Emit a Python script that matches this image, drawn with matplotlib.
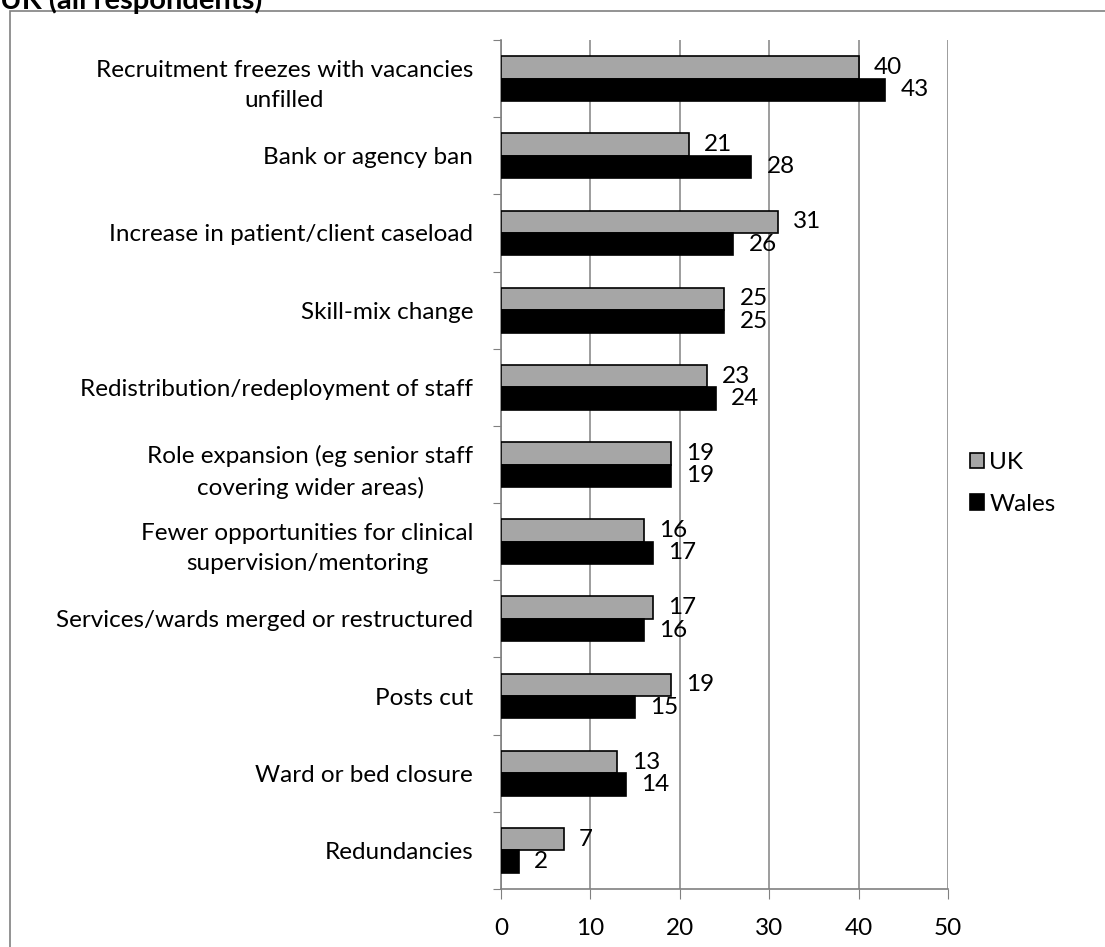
import numpy as np
import matplotlib.pyplot as plt
from matplotlib.patches import Rectangle

plt.rcParams['font.family'] = ['Lato', 'DejaVu Sans']

categories = [
    "Recruitment freezes with vacancies\nunfilled",
    "Bank or agency ban",
    "Increase in patient/client caseload",
    "Skill-mix change",
    "Redistribution/redeployment of staff",
    "Role expansion (eg senior staff\ncovering wider areas)",
    "Fewer opportunities for clinical\nsupervision/mentoring",
    "Services/wards merged or restructured",
    "Posts cut",
    "Ward or bed closure",
    "Redundancies",
]
uk = [40, 21, 31, 25, 23, 19, 16, 17, 19, 13, 7]
wales = [43, 28, 26, 25, 24, 19, 17, 16, 15, 14, 2]

FS = 17.5

fig = plt.figure(figsize=(11.05, 9.47), dpi=100)
ax = fig.add_axes([0.4534, 0.0612, 0.8579 - 0.4534, 0.9578 - 0.0612])

# outer chart frame, cut off at right and bottom
fig.patches.append(Rectangle((10 / 1105, -0.01), 1.1, 1 - 11 / 947 + 0.01,
                             transform=fig.transFigure, fill=False,
                             edgecolor='#808080', linewidth=1.2))
fig.text(0.0, 1 - 9 / 947, "UK (all respondents)", fontsize=21,
         fontweight='bold', ha='left', va='baseline')

n = len(categories)
y = np.arange(n)
h = 0.29
ax.barh(y - h / 2, uk, height=h, color='#a6a6a6', edgecolor='black',
        linewidth=1.2, label='UK', zorder=3)
ax.barh(y + h / 2, wales, height=h, color='black', edgecolor='black',
        linewidth=1.2, label='Wales', zorder=3)

for i in range(n):
    ax.annotate(str(uk[i]), (uk[i], y[i] - h / 2), xytext=(11, 0),
                textcoords='offset points', va='center', ha='left', fontsize=FS)
    ax.annotate(str(wales[i]), (wales[i], y[i] + h / 2), xytext=(11, 0),
                textcoords='offset points', va='center', ha='left', fontsize=FS)

ax.set_ylim(n - 0.5, -0.5)
ax.set_xlim(0, 50)
ax.set_xticks([0, 10, 20, 30, 40, 50])
ax.tick_params(axis='x', direction='out', length=7, color='#808080',
               labelsize=FS, pad=14)
ax.set_yticks(np.arange(-0.5, n, 1.0), minor=False)
ax.set_yticklabels([])
ax.tick_params(axis='y', direction='out', length=6, color='#808080')
ax.set_yticks(y, minor=True)
ax.set_yticklabels(categories, minor=True, fontsize=FS, multialignment='center',
                   linespacing=1.55)
ax.tick_params(axis='y', which='minor', length=0, pad=20)

ax.grid(axis='x', color='#8c8c8c', linewidth=1.2, zorder=0)
for s in ['top', 'right']:
    ax.spines[s].set_visible(False)
for s in ['left', 'bottom']:
    ax.spines[s].set_color('#808080')
    ax.spines[s].set_linewidth(1.2)

ax.legend(loc='center left', bbox_to_anchor=(1.0, 0.478), frameon=False,
          fontsize=FS, handlelength=0.6, handleheight=0.6, handletextpad=0.2,
          labelspacing=0.85)

fig.savefig('out.png', dpi=100)
